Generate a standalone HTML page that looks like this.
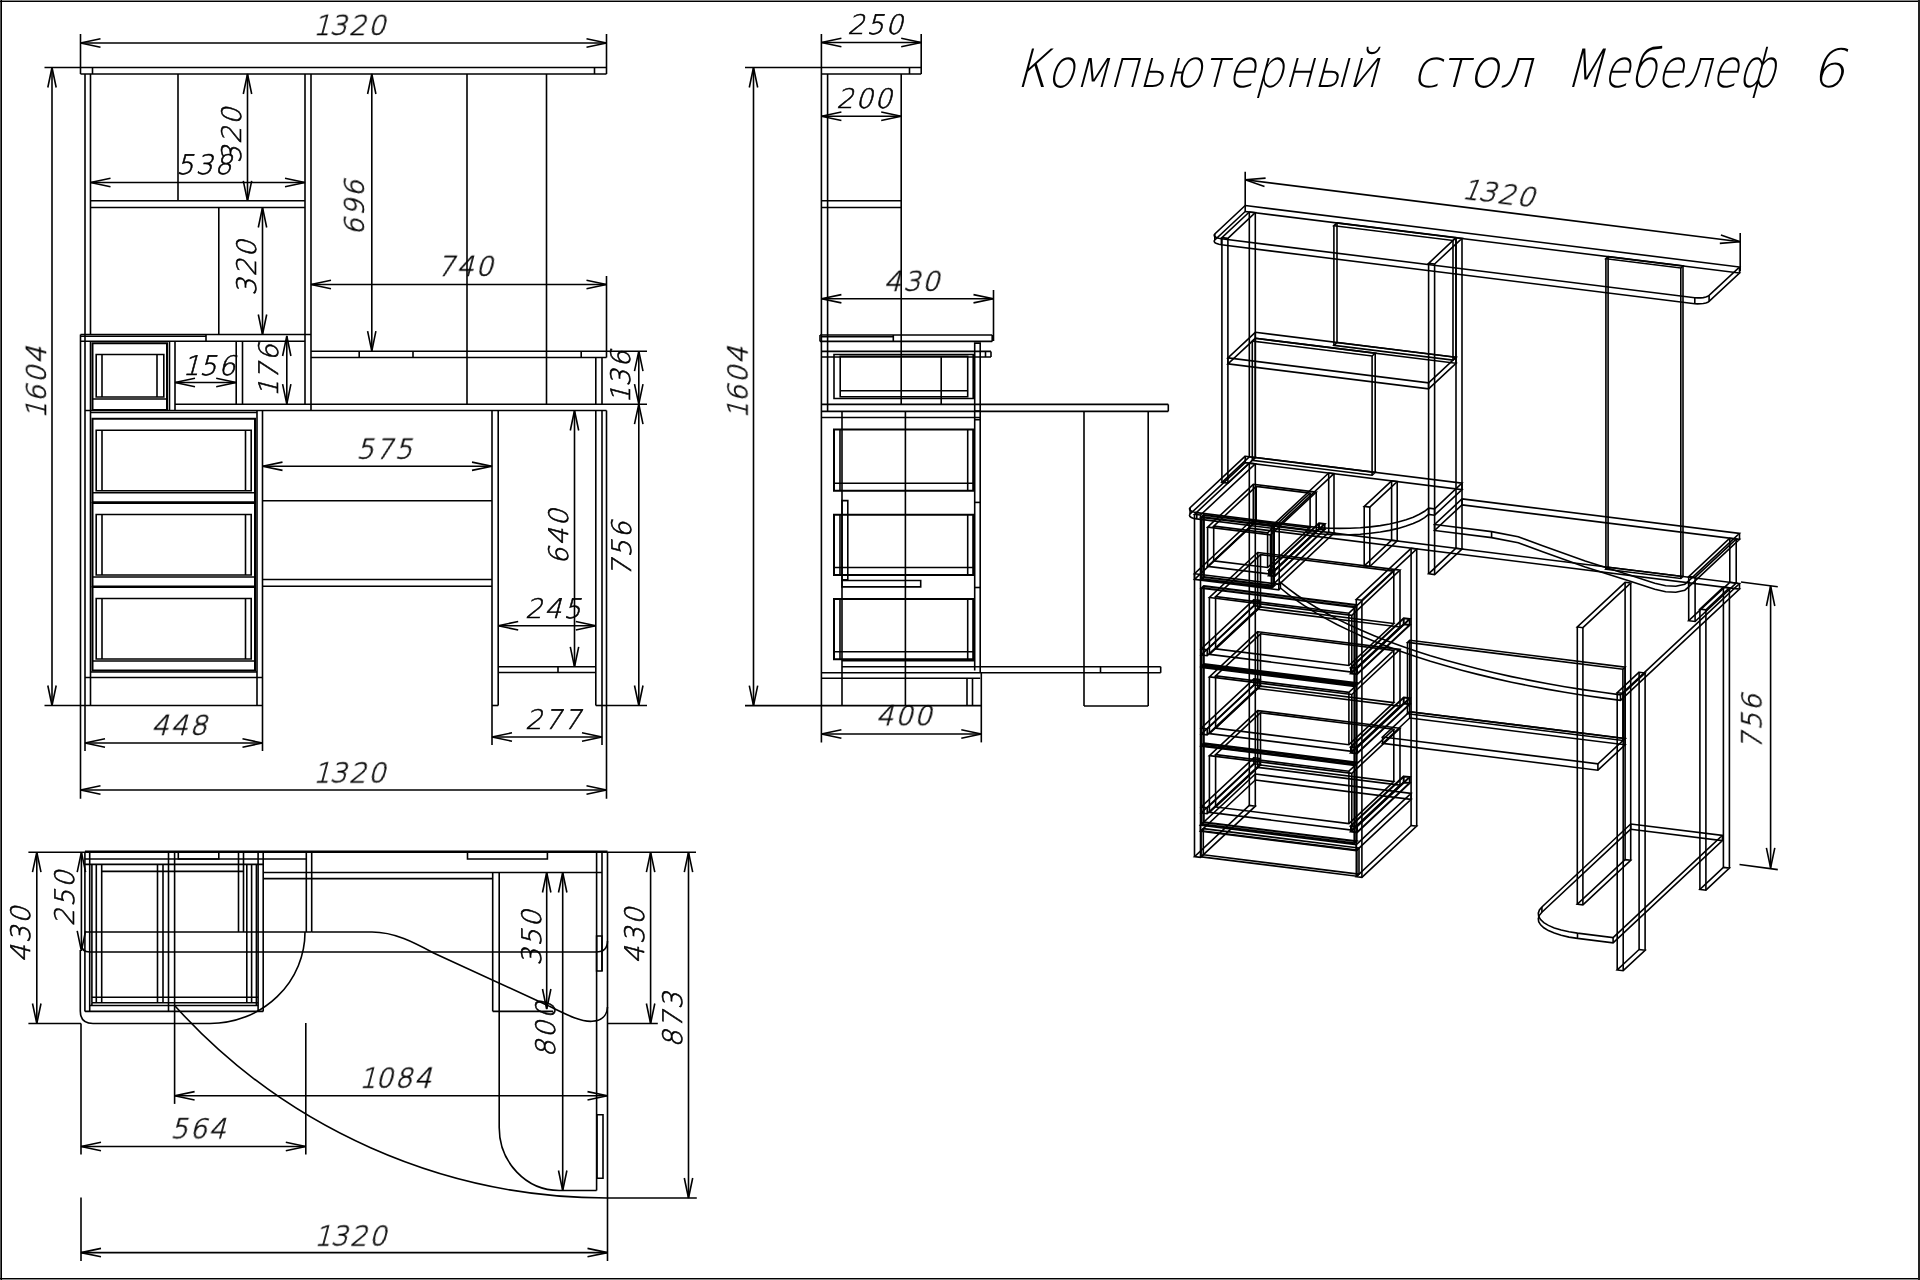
<!DOCTYPE html>
<html lang="ru"><head><meta charset="utf-8"><title>Компьютерный стол Мебелеф 6</title>
<style>
html,body{margin:0;padding:0;background:#fff}
body{width:1920px;height:1280px;overflow:hidden}
svg{display:block}
svg path{fill:none;stroke:#000;stroke-width:1.6;stroke-linecap:butt;stroke-linejoin:miter}
svg text{font-family:"DejaVu Sans Light","DejaVu Sans","Liberation Sans",sans-serif;font-weight:200;fill:#000;stroke:#000;stroke-width:0.6;letter-spacing:2px}
</style></head><body>
<svg width="1920" height="1280" viewBox="0 0 1920 1280">
<rect x="0" y="0" width="1920" height="1280" fill="#fff"/>
<g id="lines">
<rect x="0" y="0" width="1920" height="1" fill="#888"/><rect x="0" y="1279" width="1920" height="1" fill="#888"/><rect x="0" y="0" width="1" height="1280" fill="#555"/><rect x="0" y="1" width="1920" height="1" fill="#000"/><rect x="0" y="1278" width="1920" height="1" fill="#000"/><rect x="1" y="0" width="1" height="1280" fill="#000"/><rect x="1918" y="0" width="2" height="1280" fill="#222"/>
<path d="M80.5 34.0L80.5 74.0"/>
<path d="M606.5 34.0L606.5 74.0"/>
<path d="M80.5 43.0L606.5 43.0"/>
<path d="M100.5 38.8L80.5 43.0L100.5 47.2"/>
<path d="M586.5 47.2L606.5 43.0L586.5 38.8"/>
<path d="M44.5 67.5L606.5 67.5"/>
<path d="M80.5 74.0L606.5 74.0"/>
<path d="M92.5 67.5L92.5 74.0"/>
<path d="M594.5 67.5L594.5 74.0"/>
<path d="M85.0 74.0L85.0 334.5"/>
<path d="M90.5 74.0L90.5 334.5"/>
<path d="M305.0 74.0L305.0 404.2"/>
<path d="M311.0 74.0L311.0 410.5"/>
<path d="M178.0 74.0L178.0 200.8"/>
<path d="M90.5 200.8L305.0 200.8"/>
<path d="M90.5 207.5L305.0 207.5"/>
<path d="M218.8 207.5L218.8 334.5"/>
<path d="M90.5 182.5L305.0 182.5"/>
<path d="M110.5 178.3L90.5 182.5L110.5 186.7"/>
<path d="M285.0 186.7L305.0 182.5L285.0 178.3"/>
<path d="M247.5 74.0L247.5 200.8"/>
<path d="M251.7 94.0L247.5 74.0L243.3 94.0"/>
<path d="M243.3 180.8L247.5 200.8L251.7 180.8"/>
<path d="M262.5 207.5L262.5 334.5"/>
<path d="M266.7 227.5L262.5 207.5L258.3 227.5"/>
<path d="M258.3 314.5L262.5 334.5L266.7 314.5"/>
<path d="M80.5 334.5L311.0 334.5"/>
<path d="M80.5 336.3L206.0 336.3"/>
<path d="M80.5 341.2L305.0 341.2"/>
<path d="M206.0 334.5L206.0 341.2"/>
<path d="M80.5 334.5L80.5 798.8"/>
<path d="M85.0 334.5L85.0 751.0"/>
<path d="M90.5 341.2L90.5 705.5"/>
<path d="M92.5 343.2H167.0V410.0H92.5Z" style="stroke-width:2"/>
<path d="M96.2 354.5H163.8V397.0H96.2Z"/>
<path d="M102.0 354.5L102.0 397.0"/>
<path d="M157.0 354.5L157.0 397.0"/>
<path d="M92.5 399.0L167.0 399.0"/>
<path d="M169.5 341.2L169.5 410.5"/>
<path d="M175.0 341.2L175.0 410.5"/>
<path d="M175.0 382.5L236.2 382.5"/>
<path d="M195.0 378.3L175.0 382.5L195.0 386.7"/>
<path d="M216.2 386.7L236.2 382.5L216.2 378.3"/>
<path d="M236.2 341.2L236.2 404.2"/>
<path d="M242.5 341.2L242.5 404.2"/>
<path d="M286.8 336.0L286.8 404.2"/>
<path d="M290.9 356.0L286.8 336.0L282.6 356.0"/>
<path d="M282.6 384.2L286.8 404.2L290.9 384.2"/>
<path d="M175.0 404.2L647.0 404.2"/>
<path d="M85.0 410.5L606.5 410.5"/>
<path d="M467.0 74.0L467.0 404.2"/>
<path d="M546.5 74.0L546.5 404.2"/>
<path d="M371.8 74.0L371.8 351.2"/>
<path d="M375.9 94.0L371.8 74.0L367.6 94.0"/>
<path d="M367.6 331.2L371.8 351.2L375.9 331.2"/>
<path d="M311.0 284.5L606.5 284.5"/>
<path d="M331.0 280.3L311.0 284.5L331.0 288.7"/>
<path d="M586.5 288.7L606.5 284.5L586.5 280.3"/>
<path d="M606.5 276.0L606.5 357.5"/>
<path d="M311.0 351.2L647.0 351.2"/>
<path d="M311.0 357.5L606.5 357.5"/>
<path d="M359.2 351.2L359.2 357.5"/>
<path d="M413.0 351.2L413.0 357.5"/>
<path d="M581.2 351.2L581.2 357.5"/>
<path d="M595.8 357.5L595.8 404.2"/>
<path d="M602.0 357.5L602.0 404.2"/>
<path d="M638.8 351.2L638.8 705.5"/>
<path d="M643.0 371.2L638.8 351.2L634.5 371.2"/>
<path d="M634.5 384.2L638.8 404.2L643.0 384.2"/>
<path d="M643.0 424.2L638.8 404.2L634.5 424.2"/>
<path d="M634.5 685.5L638.8 705.5L643.0 685.5"/>
<path d="M606.5 705.5L647.0 705.5"/>
<path d="M257.0 410.5L257.0 705.5"/>
<path d="M262.5 410.5L262.5 751.0"/>
<path d="M90.5 412.5L257.0 412.5"/>
<path d="M92.5 418.8H255.0V502.2H92.5Z" style="stroke-width:2"/>
<path d="M96.2 430.2H251.2V490.8H96.2Z"/>
<path d="M102.0 430.2L102.0 490.8"/>
<path d="M245.5 430.2L245.5 490.8"/>
<path d="M92.5 492.8L255.0 492.8"/>
<path d="M92.5 503.0H255.0V586.5H92.5Z" style="stroke-width:2"/>
<path d="M96.2 514.5H251.2V575.0H96.2Z"/>
<path d="M102.0 514.5L102.0 575.0"/>
<path d="M245.5 514.5L245.5 575.0"/>
<path d="M92.5 577.0L255.0 577.0"/>
<path d="M92.5 587.0H255.0V670.5H92.5Z" style="stroke-width:2"/>
<path d="M96.2 598.5H251.2V659.0H96.2Z"/>
<path d="M102.0 598.5L102.0 659.0"/>
<path d="M245.5 598.5L245.5 659.0"/>
<path d="M92.5 661.0L255.0 661.0"/>
<path d="M85.0 677.5L262.5 677.5"/>
<path d="M90.5 672.0L257.0 672.0"/>
<path d="M44.5 705.5L262.5 705.5"/>
<path d="M85.0 743.0L262.5 743.0"/>
<path d="M105.0 738.8L85.0 743.0L105.0 747.2"/>
<path d="M242.5 747.2L262.5 743.0L242.5 738.8"/>
<path d="M80.5 790.0L606.5 790.0"/>
<path d="M100.5 785.8L80.5 790.0L100.5 794.2"/>
<path d="M586.5 794.2L606.5 790.0L586.5 785.8"/>
<path d="M52.0 67.5L52.0 705.5"/>
<path d="M56.2 87.5L52.0 67.5L47.8 87.5"/>
<path d="M47.8 685.5L52.0 705.5L56.2 685.5"/>
<path d="M262.5 466.2L492.0 466.2"/>
<path d="M282.5 462.1L262.5 466.2L282.5 470.4"/>
<path d="M472.0 470.4L492.0 466.2L472.0 462.1"/>
<path d="M262.5 500.8L492.0 500.8"/>
<path d="M262.5 579.5L492.0 579.5"/>
<path d="M262.5 586.2L492.0 586.2"/>
<path d="M492.0 410.5L492.0 745.0"/>
<path d="M498.2 410.5L498.2 705.5"/>
<path d="M492.0 705.5L498.2 705.5"/>
<path d="M595.8 410.5L595.8 705.5"/>
<path d="M602.0 410.5L602.0 745.0"/>
<path d="M606.5 410.5L606.5 798.8"/>
<path d="M595.8 705.5L606.5 705.5"/>
<path d="M498.2 666.8L595.8 666.8"/>
<path d="M498.2 672.5L595.8 672.5"/>
<path d="M558.0 666.8L558.0 672.5"/>
<path d="M498.2 625.8L595.8 625.8"/>
<path d="M518.2 621.5L498.2 625.8L518.2 630.0"/>
<path d="M575.8 630.0L595.8 625.8L575.8 621.5"/>
<path d="M574.5 410.5L574.5 666.8"/>
<path d="M578.7 430.5L574.5 410.5L570.3 430.5"/>
<path d="M570.3 646.8L574.5 666.8L578.7 646.8"/>
<path d="M492.0 737.0L602.0 737.0"/>
<path d="M512.0 732.8L492.0 737.0L512.0 741.2"/>
<path d="M582.0 741.2L602.0 737.0L582.0 732.8"/>
<path d="M745.0 67.5L921.2 67.5"/>
<path d="M821.4 74.0L921.2 74.0"/>
<path d="M909.5 67.5L909.5 74.0"/>
<path d="M921.2 34.0L921.2 74.0"/>
<path d="M821.4 34.0L821.4 742.4"/>
<path d="M821.4 42.5L921.2 42.5"/>
<path d="M841.4 38.3L821.4 42.5L841.4 46.7"/>
<path d="M901.2 46.7L921.2 42.5L901.2 38.3"/>
<path d="M821.4 116.2L901.2 116.2"/>
<path d="M841.4 112.0L821.4 116.2L841.4 120.5"/>
<path d="M881.2 120.5L901.2 116.2L881.2 112.0"/>
<path d="M827.6 74.0L827.6 411.4"/>
<path d="M901.2 74.0L901.2 404.4"/>
<path d="M821.4 200.8L901.2 200.8"/>
<path d="M821.4 207.5L901.2 207.5"/>
<path d="M821.4 298.8L993.5 298.8"/>
<path d="M841.4 294.6L821.4 298.8L841.4 302.9"/>
<path d="M973.5 302.9L993.5 298.8L973.5 294.6"/>
<path d="M993.5 290.0L993.5 341.0"/>
<path d="M753.5 67.5L753.5 705.6"/>
<path d="M757.7 87.5L753.5 67.5L749.3 87.5"/>
<path d="M749.3 685.6L753.5 705.6L757.7 685.6"/>
<path d="M820.0 335.0L992.2 335.0"/>
<path d="M820.0 341.4L992.2 341.4"/>
<path d="M992.2 335.0L992.2 341.4"/>
<path d="M820.0 335.0L820.0 341.4"/>
<path d="M893.3 335.0L893.3 341.4"/>
<path d="M821.4 336.8L893.3 336.8"/>
<path d="M974.7 343.1H980.2V411.0H974.7Z"/>
<path d="M821.4 351.4L991.0 351.4"/>
<path d="M821.4 357.0L991.0 357.0"/>
<path d="M991.0 351.4L991.0 357.0"/>
<path d="M985.5 351.4L985.5 357.0"/>
<path d="M834.0 354.5H973.2V398.5H834.0Z"/>
<path d="M840.2 356.3H967.7V396.7H840.2Z"/>
<path d="M840.2 390.8L967.7 390.8"/>
<path d="M941.2 357.0L941.2 404.4"/>
<path d="M821.4 404.4L1168.3 404.4"/>
<path d="M821.4 411.4L1168.3 411.4"/>
<path d="M1168.3 404.4L1168.3 411.4"/>
<path d="M821.4 417.5L980.2 417.5"/>
<path d="M842.0 411.4L842.0 705.6"/>
<path d="M905.4 411.4L905.4 705.6"/>
<path d="M834.0 429.5H973.2V490.8H834.0Z" style="stroke-width:2"/>
<path d="M840.0 429.5L840.0 490.8"/>
<path d="M967.7 429.5L967.7 490.8"/>
<path d="M834.0 483.3L973.2 483.3"/>
<path d="M834.0 514.7H973.2V575.0H834.0Z" style="stroke-width:2"/>
<path d="M840.0 514.7L840.0 575.0"/>
<path d="M967.7 514.7L967.7 575.0"/>
<path d="M834.0 567.5L973.2 567.5"/>
<path d="M834.0 598.9H973.2V659.3H834.0Z" style="stroke-width:2"/>
<path d="M840.0 598.9L840.0 659.3"/>
<path d="M967.7 598.9L967.7 659.3"/>
<path d="M834.0 651.8L973.2 651.8"/>
<path d="M842.0 500.6H847.8V579.9H842.0Z"/>
<path d="M842.0 580.5H920.7V586.9H842.0Z"/>
<path d="M974.7 411.4L974.7 670.6"/>
<path d="M980.2 411.4L980.2 672.8"/>
<path d="M974.7 419.7L980.2 419.7"/>
<path d="M974.7 502.4L980.2 502.4"/>
<path d="M974.7 587.5L980.2 587.5"/>
<path d="M842.0 660.8L974.7 660.8"/>
<path d="M842.0 666.7L1160.7 666.7"/>
<path d="M821.4 672.8L1160.7 672.8"/>
<path d="M1160.7 666.7L1160.7 672.8"/>
<path d="M821.4 678.3L980.2 678.3"/>
<path d="M1100.5 666.7L1100.5 672.8"/>
<path d="M967.0 678.3L967.0 705.6"/>
<path d="M972.5 678.3L972.5 705.6"/>
<path d="M745.0 705.6L981.3 705.6"/>
<path d="M981.3 672.8L981.3 742.4"/>
<path d="M821.4 734.0L981.3 734.0"/>
<path d="M841.4 729.8L821.4 734.0L841.4 738.2"/>
<path d="M961.3 738.2L981.3 734.0L961.3 729.8"/>
<path d="M1084.0 411.4L1084.0 706.0"/>
<path d="M1148.2 411.4L1148.2 706.0"/>
<path d="M1084.0 706.0L1148.2 706.0"/>
<path d="M28.4 852.2L696.0 852.2"/>
<path d="M84.9 851.8L607.5 851.8" style="stroke-width:2.6"/>
<path d="M36.8 852.2L36.8 1023.5"/>
<path d="M41.0 872.2L36.8 852.2L32.5 872.2"/>
<path d="M32.5 1003.5L36.8 1023.5L41.0 1003.5"/>
<path d="M28.4 1023.5L81.0 1023.5"/>
<path d="M81.4 852.2L81.4 946.0"/>
<path d="M85.6 872.2L81.4 852.2L77.2 872.2"/>
<path d="M77.2 930.8L81.4 950.8L85.6 930.8"/>
<path d="M81.0 1023.5L81.0 1154.4"/>
<path d="M81.0 1197.5L81.0 1261.0"/>
<path d="M84.9 852.2L84.9 1011.4"/>
<path d="M89.7 852.2L89.7 1011.4"/>
<path d="M168.5 852.2L168.5 1011.4"/>
<path d="M174.6 852.2L174.6 1011.4"/>
<path d="M258.1 852.2L258.1 1011.4"/>
<path d="M263.2 852.2L263.2 1011.4"/>
<path d="M91.9 864.4L91.9 1002.7"/>
<path d="M96.3 864.4L96.3 1002.7"/>
<path d="M101.7 864.4L101.7 1002.7"/>
<path d="M157.5 864.4L157.5 1002.7"/>
<path d="M163.0 864.4L163.0 1002.7"/>
<path d="M246.8 864.4L246.8 1002.7"/>
<path d="M251.6 864.4L251.6 1002.7"/>
<path d="M256.4 864.4L256.4 1002.7"/>
<path d="M91.9 1002.7L91.9 1005.5"/>
<path d="M256.4 1002.7L256.4 1005.5"/>
<path d="M238.5 852.2L238.5 932.0"/>
<path d="M243.5 852.2L243.5 932.0"/>
<path d="M306.3 852.2L306.3 932.0"/>
<path d="M311.7 852.2L311.7 932.0"/>
<path d="M174.6 1011.4L174.6 1103.9"/>
<path d="M84.9 859.0L306.3 859.0"/>
<path d="M84.9 864.4L263.2 864.4"/>
<path d="M101.7 871.4L243.5 871.4"/>
<path d="M84.9 932.0L311.7 932.0"/>
<path d="M91.9 997.2L258.1 997.2"/>
<path d="M91.9 1002.7L258.1 1002.7"/>
<path d="M89.7 1005.5L258.1 1005.5"/>
<path d="M84.9 1011.4L263.2 1011.4"/>
<path d="M178.3 852.2H218.8V859.0H178.3Z"/>
<path d="M81.4 944Q81.4 952 89.7 952H596Q607.5 952 607.5 941"/>
<path d="M80.3 950V1011Q80.3 1023.5 93 1023.5H210A95 91.5 0 0 0 305 932"/>
<path d="M311.7 932H372C395 932 415 943 434.7 953.5L544 1003.8C560 1011 578 1022 592 1021.3C601 1021 607 1016 607.5 1007"/>
<path d="M174.6 1005.5A582 582 0 0 0 607.5 1198"/>
<path d="M305.8 1023.0L305.8 1154.4"/>
<path d="M174.6 1095.8L607.5 1095.8"/>
<path d="M194.6 1091.6L174.6 1095.8L194.6 1100.0"/>
<path d="M587.5 1100.0L607.5 1095.8L587.5 1091.6"/>
<path d="M81.0 1146.5L305.8 1146.5"/>
<path d="M101.0 1142.3L81.0 1146.5L101.0 1150.7"/>
<path d="M285.8 1150.7L305.8 1146.5L285.8 1142.3"/>
<path d="M81.0 1252.6L607.5 1252.6"/>
<path d="M101.0 1248.4L81.0 1252.6L101.0 1256.8"/>
<path d="M587.5 1256.8L607.5 1252.6L587.5 1248.4"/>
<path d="M263.2 872.5L602.0 872.5"/>
<path d="M263.2 878.6L492.7 878.6"/>
<path d="M467.5 852.2H547.4V859.0H467.5Z"/>
<path d="M492.7 872.5L492.7 1011.4"/>
<path d="M492.7 1011.4L553.0 1011.4"/>
<path d="M499.2 872.5V1127.5A60 63 0 0 0 559.4 1190.5H596.6"/>
<path d="M546.7 872.5L546.7 1009.0"/>
<path d="M550.9 892.5L546.7 872.5L542.5 892.5"/>
<path d="M542.5 989.0L546.7 1009.0L550.9 989.0"/>
<path d="M562.7 872.5L562.7 1190.5"/>
<path d="M566.9 892.5L562.7 872.5L558.5 892.5"/>
<path d="M558.5 1170.5L562.7 1190.5L566.9 1170.5"/>
<path d="M596.6 852.2L596.6 1190.5"/>
<path d="M602.0 852.2L602.0 971.0"/>
<path d="M607.5 852.2L607.5 1261.0"/>
<path d="M596.6 936.0H602.0V971.0H596.6Z"/>
<path d="M597.0 1114.8H603.0V1178.3H597.0Z"/>
<path d="M607.5 1023.5L657.8 1023.5"/>
<path d="M650.6 852.2L650.6 1023.5"/>
<path d="M654.8 872.2L650.6 852.2L646.4 872.2"/>
<path d="M646.4 1003.5L650.6 1023.5L654.8 1003.5"/>
<path d="M688.5 852.2L688.5 1198.0"/>
<path d="M692.7 872.2L688.5 852.2L684.3 872.2"/>
<path d="M684.3 1178.0L688.5 1198.0L692.7 1178.0"/>
<path d="M607.5 1198.0L696.8 1198.0"/>
<path d="M1245.2 211.5L1739.5 273.0L1709.1 301.4L1707.8 302.3L1705.8 303.0L1703.3 303.5L1700.6 303.8L1697.6 303.9L1694.8 303.7L1221.4 244.8L1218.9 244.3L1216.7 243.6L1215.1 242.8L1214.3 241.8L1214.2 240.9L1214.8 239.9Z"/>
<path d="M1245.2 205.5L1739.5 267.0L1709.1 295.4L1707.8 296.3L1705.8 297.0L1703.3 297.6L1700.6 297.9L1697.6 297.9L1694.8 297.7L1221.4 238.8L1218.9 238.3L1216.7 237.7L1215.1 236.8L1214.3 235.9L1214.2 234.9L1214.8 233.9Z"/>
<path d="M1245.2 211.5L1245.2 205.5"/>
<path d="M1739.5 273.0L1739.5 267.0"/>
<path d="M1709.1 301.4L1709.1 295.4"/>
<path d="M1694.8 303.7L1694.8 297.7"/>
<path d="M1221.4 244.8L1221.4 238.8"/>
<path d="M1214.8 239.9L1214.8 233.9"/>
<path d="M1249.3 456.8L1255.3 457.5L1227.9 483.1L1221.9 482.4Z"/>
<path d="M1249.3 212.0L1255.3 212.7L1227.9 238.3L1221.9 237.6Z"/>
<path d="M1249.3 456.8L1249.3 212.0"/>
<path d="M1255.3 457.5L1255.3 212.7"/>
<path d="M1227.9 483.1L1227.9 238.3"/>
<path d="M1221.9 482.4L1221.9 237.6"/>
<path d="M1456.0 548.2L1462.0 549.0L1434.6 574.6L1428.6 573.8Z"/>
<path d="M1456.0 237.7L1462.0 238.4L1434.6 264.0L1428.6 263.3Z"/>
<path d="M1456.0 548.2L1456.0 237.7"/>
<path d="M1462.0 549.0L1462.0 238.4"/>
<path d="M1434.6 574.6L1434.6 264.0"/>
<path d="M1428.6 573.8L1428.6 263.3"/>
<path d="M1255.3 338.3L1456.0 363.3L1428.6 388.9L1227.9 363.9Z"/>
<path d="M1255.3 332.3L1456.0 357.3L1428.6 382.9L1227.9 357.9Z"/>
<path d="M1255.3 338.3L1255.3 332.3"/>
<path d="M1456.0 363.3L1456.0 357.3"/>
<path d="M1428.6 388.9L1428.6 382.9"/>
<path d="M1227.9 363.9L1227.9 357.9"/>
<path d="M1337.0 342.5L1456.0 357.3L1453.0 360.1L1333.9 345.3Z"/>
<path d="M1337.0 222.9L1456.0 237.7L1453.0 240.5L1333.9 225.7Z"/>
<path d="M1337.0 342.5L1337.0 222.9"/>
<path d="M1456.0 357.3L1456.0 237.7"/>
<path d="M1453.0 360.1L1453.0 240.5"/>
<path d="M1333.9 345.3L1333.9 225.7"/>
<path d="M1255.3 457.5L1375.2 472.4L1372.1 475.2L1252.3 460.3Z"/>
<path d="M1255.3 338.3L1375.2 353.2L1372.1 356.0L1252.3 341.1Z"/>
<path d="M1255.3 457.5L1255.3 338.3"/>
<path d="M1375.2 472.4L1375.2 353.2"/>
<path d="M1372.1 475.2L1372.1 356.0"/>
<path d="M1252.3 460.3L1252.3 341.1"/>
<path d="M1608.1 567.2L1683.0 576.5L1680.8 578.5L1605.9 569.2Z"/>
<path d="M1608.1 256.6L1683.0 265.9L1680.8 268.0L1605.9 258.7Z"/>
<path d="M1608.1 567.2L1608.1 256.6"/>
<path d="M1683.0 576.5L1683.0 265.9"/>
<path d="M1680.8 578.5L1680.8 268.0"/>
<path d="M1605.9 569.2L1605.9 258.7"/>
<path d="M1245.2 462.6L1462.0 489.6L1434.6 515.2L1428.6 514.4L1428.6 514.4L1424.6 517.7L1419.4 520.7L1413.2 523.5L1406.1 526.1L1398.2 528.4L1389.6 530.4L1380.3 532.0L1370.4 533.3L1360.3 534.2L1349.8 534.7L1339.2 534.8L1328.6 534.5L1318.2 533.8L1308.0 532.8L1196.8 518.9L1193.7 518.4L1191.3 517.5L1189.9 516.4L1189.5 515.2L1190.1 514.0Z"/>
<path d="M1245.2 456.2L1462.0 483.2L1434.6 508.8L1428.6 508.1L1428.6 508.1L1424.6 511.3L1419.4 514.3L1413.2 517.2L1406.1 519.7L1398.2 522.0L1389.6 524.0L1380.3 525.6L1370.4 526.9L1360.3 527.8L1349.8 528.3L1339.2 528.4L1328.6 528.2L1318.2 527.5L1308.0 526.4L1196.8 512.6L1193.7 512.0L1191.3 511.1L1189.9 510.0L1189.5 508.9L1190.1 507.7Z"/>
<path d="M1245.2 462.6L1245.2 456.2"/>
<path d="M1462.0 489.6L1462.0 483.2"/>
<path d="M1434.6 515.2L1434.6 508.8"/>
<path d="M1428.6 514.4L1428.6 508.1"/>
<path d="M1308.0 532.8L1308.0 526.4"/>
<path d="M1196.8 518.9L1196.8 512.6"/>
<path d="M1190.1 514.0L1190.1 507.7"/>
<path d="M1249.3 805.4L1255.3 806.2L1200.5 857.4L1194.5 856.6Z"/>
<path d="M1249.3 463.1L1255.3 463.8L1200.5 515.0L1194.5 514.3Z"/>
<path d="M1249.3 805.4L1249.3 463.1"/>
<path d="M1255.3 806.2L1255.3 463.8"/>
<path d="M1200.5 857.4L1200.5 515.0"/>
<path d="M1194.5 856.6L1194.5 514.3"/>
<path d="M1328.7 532.4L1334.0 533.1L1279.2 584.3L1273.9 583.6Z"/>
<path d="M1328.7 473.0L1334.0 473.6L1279.2 524.8L1273.9 524.2Z"/>
<path d="M1328.7 532.4L1328.7 473.0"/>
<path d="M1334.0 533.1L1334.0 473.6"/>
<path d="M1279.2 584.3L1279.2 524.8"/>
<path d="M1273.9 583.6L1273.9 524.2"/>
<path d="M1391.6 540.2L1397.2 540.9L1369.8 566.5L1364.2 565.8Z"/>
<path d="M1391.6 480.8L1397.2 481.5L1369.8 507.1L1364.2 506.4Z"/>
<path d="M1391.6 540.2L1391.6 480.8"/>
<path d="M1397.2 540.9L1397.2 481.5"/>
<path d="M1369.8 566.5L1369.8 507.1"/>
<path d="M1364.2 565.8L1364.2 506.4"/>
<path d="M1203.8 577.0L1273.9 585.8L1271.7 587.8L1201.6 579.1Z" style="stroke-width:2.2"/>
<path d="M1203.8 515.0L1273.9 523.7L1271.7 525.8L1201.6 517.1Z" style="stroke-width:2.2"/>
<path d="M1203.8 577.0L1203.8 515.0" style="stroke-width:2.2"/>
<path d="M1273.9 585.8L1273.9 523.7" style="stroke-width:2.2"/>
<path d="M1271.7 587.8L1271.7 525.8" style="stroke-width:2.2"/>
<path d="M1201.6 579.1L1201.6 517.1" style="stroke-width:2.2"/>
<path d="M1319.0 528.8L1324.6 529.5L1274.6 576.2L1269.0 575.5Z" style="stroke-width:2"/>
<path d="M1319.0 523.2L1324.6 523.9L1274.6 570.6L1269.0 569.9Z" style="stroke-width:2"/>
<path d="M1319.0 528.8L1319.0 523.2" style="stroke-width:2"/>
<path d="M1324.6 529.5L1324.6 523.9" style="stroke-width:2"/>
<path d="M1274.6 576.2L1274.6 570.6" style="stroke-width:2"/>
<path d="M1269.0 575.5L1269.0 569.9" style="stroke-width:2"/>
<path d="M1253.3 523.5L1316.2 531.4L1270.5 574.1L1207.6 566.3Z"/>
<path d="M1253.3 484.3L1316.2 492.1L1270.5 534.9L1207.6 527.1Z"/>
<path d="M1253.3 523.5L1253.3 484.3"/>
<path d="M1316.2 531.4L1316.2 492.1"/>
<path d="M1270.5 574.1L1270.5 534.9"/>
<path d="M1207.6 566.3L1207.6 527.1"/>
<path d="M1256.2 521.2L1310.1 527.9L1267.6 567.5L1213.7 560.8Z"/>
<path d="M1256.2 486.4L1310.1 493.1L1267.6 532.8L1213.7 526.1Z"/>
<path d="M1256.2 521.2L1256.2 486.4"/>
<path d="M1310.1 527.9L1310.1 493.1"/>
<path d="M1267.6 567.5L1267.6 532.8"/>
<path d="M1213.7 560.8L1213.7 526.1"/>
<path d="M1249.3 528.1L1739.5 589.1L1620.5 700.4L1601.9 697.9L1583.2 695.2L1564.8 692.3L1546.7 689.1L1528.9 685.7L1511.5 682.2L1494.4 678.4L1477.8 674.4L1461.6 670.2L1445.8 665.8L1430.4 661.3L1415.6 656.6L1401.2 651.6L1387.4 646.6L1374.1 641.3L1361.3 635.9L1349.1 630.4L1337.4 624.7L1326.4 618.9L1315.9 612.9L1306.1 606.8L1296.9 600.6L1288.3 594.4L1280.4 588.0L1278.8 589.8L1194.5 579.3Z"/>
<path d="M1249.3 522.5L1739.5 583.5L1620.5 694.8L1601.9 692.3L1583.2 689.6L1564.8 686.7L1546.7 683.5L1528.9 680.1L1511.5 676.6L1494.4 672.8L1477.8 668.8L1461.6 664.6L1445.8 660.2L1430.4 655.7L1415.6 650.9L1401.2 646.0L1387.4 641.0L1374.1 635.7L1361.3 630.3L1349.1 624.8L1337.4 619.1L1326.4 613.3L1315.9 607.3L1306.1 601.2L1296.9 595.0L1288.3 588.7L1280.4 582.4L1278.8 584.2L1194.5 573.7Z"/>
<path d="M1249.3 528.1L1249.3 522.5"/>
<path d="M1739.5 589.1L1739.5 583.5"/>
<path d="M1620.5 700.4L1620.5 694.8"/>
<path d="M1280.4 588.0L1280.4 582.4"/>
<path d="M1278.8 589.8L1278.8 584.2"/>
<path d="M1194.5 579.3L1194.5 573.7"/>
<path d="M1462.0 504.9L1739.5 539.4L1688.7 586.9L1684.8 590.2L1675.8 592.3L1665.7 591.7L1654.8 589.2L1628.7 580.7L1585.2 567.1L1543.3 551.9L1518.2 542.8L1491.6 537.6L1434.6 530.5Z"/>
<path d="M1462.0 498.9L1739.5 533.4L1688.7 580.9L1684.8 584.2L1675.8 586.3L1665.7 585.8L1654.8 583.2L1628.7 574.8L1585.2 561.1L1543.3 545.9L1518.2 536.8L1491.6 531.6L1434.6 524.5Z"/>
<path d="M1462.0 504.9L1462.0 498.9"/>
<path d="M1739.5 539.4L1739.5 533.4"/>
<path d="M1688.7 586.9L1688.7 580.9"/>
<path d="M1491.6 537.6L1491.6 531.6"/>
<path d="M1434.6 530.5L1434.6 524.5"/>
<path d="M1729.8 582.3L1736.2 583.1L1695.1 621.5L1688.7 620.7Z"/>
<path d="M1729.8 538.2L1736.2 539.0L1695.1 577.4L1688.7 576.6Z"/>
<path d="M1729.8 582.3L1729.8 538.2"/>
<path d="M1736.2 583.1L1736.2 539.0"/>
<path d="M1695.1 621.5L1695.1 577.4"/>
<path d="M1688.7 620.7L1688.7 576.6"/>
<path d="M1625.1 859.6L1630.7 860.3L1582.9 904.9L1577.3 904.2Z"/>
<path d="M1625.1 582.3L1630.7 583.0L1582.9 627.7L1577.3 627.0Z"/>
<path d="M1625.1 859.6L1625.1 582.3"/>
<path d="M1630.7 860.3L1630.7 583.0"/>
<path d="M1582.9 904.9L1582.9 627.7"/>
<path d="M1577.3 904.2L1577.3 627.0"/>
<path d="M1723.4 867.4L1729.4 868.1L1705.9 890.2L1699.9 889.4Z"/>
<path d="M1723.4 587.1L1729.4 587.9L1705.9 609.9L1699.9 609.1Z"/>
<path d="M1723.4 867.4L1723.4 587.1"/>
<path d="M1729.4 868.1L1729.4 587.9"/>
<path d="M1705.9 890.2L1705.9 609.9"/>
<path d="M1699.9 889.4L1699.9 609.1"/>
<path d="M1639.1 949.5L1645.1 950.3L1623.2 970.7L1617.2 970.0Z"/>
<path d="M1639.1 672.2L1645.1 673.0L1623.2 693.4L1617.2 692.7Z"/>
<path d="M1639.1 949.5L1639.1 672.2"/>
<path d="M1645.1 950.3L1645.1 673.0"/>
<path d="M1623.2 970.7L1623.2 693.4"/>
<path d="M1617.2 970.0L1617.2 692.7"/>
<path d="M1630.7 829.2L1722.4 840.7L1613.1 942.8L1577.5 938.4L1569.0 937.1L1561.2 935.3L1554.3 933.1L1548.4 930.6L1543.8 927.8L1540.6 924.8L1538.7 921.7L1538.3 918.5L1539.4 915.3L1541.9 912.2Z"/>
<path d="M1630.7 824.0L1722.4 835.4L1613.1 937.6L1577.5 933.1L1569.0 931.8L1561.2 930.1L1554.3 927.9L1548.4 925.4L1543.8 922.6L1540.6 919.6L1538.7 916.4L1538.3 913.2L1539.4 910.0L1541.9 907.0Z"/>
<path d="M1630.7 829.2L1630.7 824.0"/>
<path d="M1722.4 840.7L1722.4 835.4"/>
<path d="M1613.1 942.8L1613.1 937.6"/>
<path d="M1577.5 938.4L1577.5 933.1"/>
<path d="M1541.9 912.2L1541.9 907.0"/>
<path d="M1409.7 711.7L1625.1 738.5L1622.9 740.5L1407.5 713.7Z"/>
<path d="M1409.7 640.3L1625.1 667.1L1622.9 669.2L1407.5 642.4Z"/>
<path d="M1409.7 711.7L1409.7 640.3"/>
<path d="M1625.1 738.5L1625.1 667.1"/>
<path d="M1622.9 740.5L1622.9 669.2"/>
<path d="M1407.5 713.7L1407.5 642.4"/>
<path d="M1409.7 718.0L1625.1 744.8L1597.9 770.2L1382.6 743.4Z"/>
<path d="M1409.7 711.7L1625.1 738.5L1597.9 763.8L1382.6 737.0Z"/>
<path d="M1409.7 718.0L1409.7 711.7"/>
<path d="M1625.1 744.8L1625.1 738.5"/>
<path d="M1597.9 770.2L1597.9 763.8"/>
<path d="M1382.6 743.4L1382.6 737.0"/>
<path d="M1411.1 825.5L1416.7 826.2L1361.9 877.4L1356.3 876.7Z"/>
<path d="M1411.1 548.3L1416.7 549.0L1361.9 600.2L1356.3 599.5Z"/>
<path d="M1411.1 825.5L1411.1 548.3"/>
<path d="M1416.7 826.2L1416.7 549.0"/>
<path d="M1361.9 877.4L1361.9 600.2"/>
<path d="M1356.3 876.7L1356.3 599.5"/>
<path d="M1255.3 780.0L1411.1 799.4L1356.3 850.6L1200.5 831.2Z"/>
<path d="M1255.3 774.0L1411.1 793.4L1356.3 844.6L1200.5 825.2Z"/>
<path d="M1255.3 780.0L1255.3 774.0"/>
<path d="M1411.1 799.4L1411.1 793.4"/>
<path d="M1356.3 850.6L1356.3 844.6"/>
<path d="M1200.5 831.2L1200.5 825.2"/>
<path d="M1203.3 854.8L1359.0 874.2L1356.9 876.2L1201.1 856.8Z"/>
<path d="M1203.3 828.6L1359.0 848.0L1356.9 850.1L1201.1 830.7Z"/>
<path d="M1203.3 854.8L1203.3 828.6"/>
<path d="M1359.0 874.2L1359.0 848.0"/>
<path d="M1356.9 876.2L1356.9 850.1"/>
<path d="M1201.1 856.8L1201.1 830.7"/>
<path d="M1203.8 664.1L1356.6 683.1L1354.4 685.2L1201.6 666.2Z" style="stroke-width:2"/>
<path d="M1203.8 586.0L1356.6 605.0L1354.4 607.1L1201.6 588.1Z" style="stroke-width:2"/>
<path d="M1203.8 664.1L1203.8 586.0" style="stroke-width:2"/>
<path d="M1356.6 683.1L1356.6 605.0" style="stroke-width:2"/>
<path d="M1354.4 685.2L1354.4 607.1" style="stroke-width:2"/>
<path d="M1201.6 666.2L1201.6 588.1" style="stroke-width:2"/>
<path d="M1257.7 609.3L1400.0 627.0L1351.8 672.1L1209.4 654.4Z"/>
<path d="M1257.7 552.5L1400.0 570.2L1351.8 615.3L1209.4 597.5Z"/>
<path d="M1257.7 609.3L1257.7 552.5"/>
<path d="M1400.0 627.0L1400.0 570.2"/>
<path d="M1351.8 672.1L1351.8 615.3"/>
<path d="M1209.4 654.4L1209.4 597.5"/>
<path d="M1260.5 606.9L1393.8 623.5L1348.9 665.5L1215.6 648.9Z"/>
<path d="M1260.5 554.6L1393.8 571.2L1348.9 613.2L1215.6 596.6Z"/>
<path d="M1260.5 606.9L1260.5 554.6"/>
<path d="M1393.8 623.5L1393.8 571.2"/>
<path d="M1348.9 665.5L1348.9 613.2"/>
<path d="M1215.6 648.9L1215.6 596.6"/>
<path d="M1403.7 624.3L1409.7 625.0L1357.0 674.3L1351.0 673.6Z" style="stroke-width:2"/>
<path d="M1403.7 618.3L1409.7 619.0L1357.0 668.3L1351.0 667.6Z" style="stroke-width:2"/>
<path d="M1403.7 624.3L1403.7 618.3" style="stroke-width:2"/>
<path d="M1409.7 625.0L1409.7 619.0" style="stroke-width:2"/>
<path d="M1357.0 674.3L1357.0 668.3" style="stroke-width:2"/>
<path d="M1351.0 673.6L1351.0 667.6" style="stroke-width:2"/>
<path d="M1253.9 605.6L1259.9 606.4L1207.2 655.7L1201.2 654.9Z"/>
<path d="M1253.9 599.7L1259.9 600.4L1207.2 649.7L1201.2 648.9Z"/>
<path d="M1253.9 605.6L1253.9 599.7"/>
<path d="M1259.9 606.4L1259.9 600.4"/>
<path d="M1207.2 655.7L1207.2 649.7"/>
<path d="M1201.2 654.9L1201.2 648.9"/>
<path d="M1203.8 743.3L1356.6 762.4L1354.4 764.4L1201.6 745.4Z" style="stroke-width:2"/>
<path d="M1203.8 665.2L1356.6 684.2L1354.4 686.3L1201.6 667.3Z" style="stroke-width:2"/>
<path d="M1203.8 743.3L1203.8 665.2" style="stroke-width:2"/>
<path d="M1356.6 762.4L1356.6 684.2" style="stroke-width:2"/>
<path d="M1354.4 764.4L1354.4 686.3" style="stroke-width:2"/>
<path d="M1201.6 745.4L1201.6 667.3" style="stroke-width:2"/>
<path d="M1257.7 688.5L1400.0 706.2L1351.8 751.3L1209.4 733.6Z"/>
<path d="M1257.7 631.7L1400.0 649.4L1351.8 694.5L1209.4 676.8Z"/>
<path d="M1257.7 688.5L1257.7 631.7"/>
<path d="M1400.0 706.2L1400.0 649.4"/>
<path d="M1351.8 751.3L1351.8 694.5"/>
<path d="M1209.4 733.6L1209.4 676.8"/>
<path d="M1260.5 686.1L1393.8 702.7L1348.9 744.7L1215.6 728.1Z"/>
<path d="M1260.5 633.8L1393.8 650.4L1348.9 692.4L1215.6 675.8Z"/>
<path d="M1260.5 686.1L1260.5 633.8"/>
<path d="M1393.8 702.7L1393.8 650.4"/>
<path d="M1348.9 744.7L1348.9 692.4"/>
<path d="M1215.6 728.1L1215.6 675.8"/>
<path d="M1403.7 703.5L1409.7 704.3L1357.0 753.5L1351.0 752.8Z" style="stroke-width:2"/>
<path d="M1403.7 697.5L1409.7 698.3L1357.0 747.6L1351.0 746.8Z" style="stroke-width:2"/>
<path d="M1403.7 703.5L1403.7 697.5" style="stroke-width:2"/>
<path d="M1409.7 704.3L1409.7 698.3" style="stroke-width:2"/>
<path d="M1357.0 753.5L1357.0 747.6" style="stroke-width:2"/>
<path d="M1351.0 752.8L1351.0 746.8" style="stroke-width:2"/>
<path d="M1253.9 684.9L1259.9 685.6L1207.2 734.9L1201.2 734.1Z"/>
<path d="M1253.9 678.9L1259.9 679.6L1207.2 728.9L1201.2 728.2Z"/>
<path d="M1253.9 684.9L1253.9 678.9"/>
<path d="M1259.9 685.6L1259.9 679.6"/>
<path d="M1207.2 734.9L1207.2 728.9"/>
<path d="M1201.2 734.1L1201.2 728.2"/>
<path d="M1203.8 822.2L1356.6 841.2L1354.4 843.3L1201.6 824.2Z" style="stroke-width:2"/>
<path d="M1203.8 744.1L1356.6 763.1L1354.4 765.1L1201.6 746.1Z" style="stroke-width:2"/>
<path d="M1203.8 822.2L1203.8 744.1" style="stroke-width:2"/>
<path d="M1356.6 841.2L1356.6 763.1" style="stroke-width:2"/>
<path d="M1354.4 843.3L1354.4 765.1" style="stroke-width:2"/>
<path d="M1201.6 824.2L1201.6 746.1" style="stroke-width:2"/>
<path d="M1257.7 767.4L1400.0 785.1L1351.8 830.1L1209.4 812.4Z"/>
<path d="M1257.7 710.6L1400.0 728.3L1351.8 773.3L1209.4 755.6Z"/>
<path d="M1257.7 767.4L1257.7 710.6"/>
<path d="M1400.0 785.1L1400.0 728.3"/>
<path d="M1351.8 830.1L1351.8 773.3"/>
<path d="M1209.4 812.4L1209.4 755.6"/>
<path d="M1260.5 765.0L1393.8 781.6L1348.9 823.6L1215.6 807.0Z"/>
<path d="M1260.5 712.7L1393.8 729.3L1348.9 771.2L1215.6 754.6Z"/>
<path d="M1260.5 765.0L1260.5 712.7"/>
<path d="M1393.8 781.6L1393.8 729.3"/>
<path d="M1348.9 823.6L1348.9 771.2"/>
<path d="M1215.6 807.0L1215.6 754.6"/>
<path d="M1403.7 782.4L1409.7 783.1L1357.0 832.4L1351.0 831.6Z" style="stroke-width:2"/>
<path d="M1403.7 776.4L1409.7 777.1L1357.0 826.4L1351.0 825.7Z" style="stroke-width:2"/>
<path d="M1403.7 782.4L1403.7 776.4" style="stroke-width:2"/>
<path d="M1409.7 783.1L1409.7 777.1" style="stroke-width:2"/>
<path d="M1357.0 832.4L1357.0 826.4" style="stroke-width:2"/>
<path d="M1351.0 831.6L1351.0 825.7" style="stroke-width:2"/>
<path d="M1253.9 763.7L1259.9 764.5L1207.2 813.7L1201.2 813.0Z"/>
<path d="M1253.9 757.7L1259.9 758.5L1207.2 807.8L1201.2 807.0Z"/>
<path d="M1253.9 763.7L1253.9 757.7"/>
<path d="M1259.9 764.5L1259.9 758.5"/>
<path d="M1207.2 813.7L1207.2 807.8"/>
<path d="M1201.2 813.0L1201.2 807.0"/>
<path d="M1245.2 171.7L1245.2 205.5"/>
<path d="M1740.2 233.0L1740.2 271.3"/>
<path d="M1245.2 179.8L1740.2 241.7"/>
<path d="M1265.6 178.1L1245.2 179.8L1264.5 186.4"/>
<path d="M1719.8 243.4L1740.2 241.7L1720.9 235.1"/>
<path d="M1770.6 586.0L1770.6 867.8"/>
<path d="M1774.8 606.0L1770.6 586.0L1766.4 606.0"/>
<path d="M1766.4 847.8L1770.6 867.8L1774.8 847.8"/>
<path d="M1741.0 582.0L1777.8 586.8"/>
<path d="M1739.5 864.5L1777.8 869.6"/>
</g>
<g id="labels" opacity="0.999">
<text transform="translate(1016.0 86.5) skewX(-15)" font-size="53" textLength="362" lengthAdjust="spacingAndGlyphs" style="letter-spacing:0;stroke-width:0">Компьютерный</text>
<text transform="translate(1412.0 86.5) skewX(-15)" font-size="53" textLength="120" lengthAdjust="spacingAndGlyphs" style="letter-spacing:0;stroke-width:0">стол</text>
<text transform="translate(1565.0 86.5) skewX(-15)" font-size="53" textLength="210" lengthAdjust="spacingAndGlyphs" style="letter-spacing:0;stroke-width:0">Мебелеф</text>
<text transform="translate(1811 86.5) skewX(-15)" font-size="53" style="letter-spacing:0;stroke-width:0">6</text>
<text transform="translate(350.0 35.0) rotate(0) skewX(-15)" dx="0 -2.5 0 0" font-size="27" text-anchor="middle">1320</text>
<text transform="translate(205.0 173.8) rotate(0) skewX(-15)" font-size="27" text-anchor="middle">538</text>
<text transform="translate(241.0 134.5) rotate(-90) skewX(-15)" font-size="27" text-anchor="middle">320</text>
<text transform="translate(256.0 267.0) rotate(-90) skewX(-15)" font-size="27" text-anchor="middle">320</text>
<text transform="translate(210.0 375.0) rotate(0) skewX(-15)" dx="0 -2.5 0" font-size="27" text-anchor="middle">156</text>
<text transform="translate(277.5 369.5) rotate(-90) skewX(-15)" dx="0 -2.5 0" font-size="27" text-anchor="middle">176</text>
<text transform="translate(364.0 207.0) rotate(-90) skewX(-15)" font-size="27" text-anchor="middle">696</text>
<text transform="translate(466.0 276.0) rotate(0) skewX(-15)" font-size="27" text-anchor="middle">740</text>
<text transform="translate(630.0 376.0) rotate(-90) skewX(-15)" dx="0 -2.5 0" font-size="27" text-anchor="middle">136</text>
<text transform="translate(631.0 548.0) rotate(-90) skewX(-15)" font-size="27" text-anchor="middle">756</text>
<text transform="translate(180.0 735.0) rotate(0) skewX(-15)" font-size="27" text-anchor="middle">448</text>
<text transform="translate(350.0 782.5) rotate(0) skewX(-15)" dx="0 -2.5 0 0" font-size="27" text-anchor="middle">1320</text>
<text transform="translate(46.0 382.0) rotate(-90) skewX(-15)" dx="0 -2.5 0 0" font-size="27" text-anchor="middle">1604</text>
<text transform="translate(385.0 458.8) rotate(0) skewX(-15)" font-size="27" text-anchor="middle">575</text>
<text transform="translate(553.8 618.0) rotate(0) skewX(-15)" font-size="27" text-anchor="middle">245</text>
<text transform="translate(567.5 536.0) rotate(-90) skewX(-15)" font-size="27" text-anchor="middle">640</text>
<text transform="translate(553.8 728.8) rotate(0) skewX(-15)" font-size="27" text-anchor="middle">277</text>
<text transform="translate(876.0 33.8) rotate(0) skewX(-15)" font-size="27" text-anchor="middle">250</text>
<text transform="translate(865.0 107.5) rotate(0) skewX(-15)" font-size="27" text-anchor="middle">200</text>
<text transform="translate(912.5 291.0) rotate(0) skewX(-15)" font-size="27" text-anchor="middle">430</text>
<text transform="translate(747.5 382.0) rotate(-90) skewX(-15)" dx="0 -2.5 0 0" font-size="27" text-anchor="middle">1604</text>
<text transform="translate(904.7 725.3) rotate(0) skewX(-15)" font-size="27" text-anchor="middle">400</text>
<text transform="translate(29.5 933.6) rotate(-90) skewX(-15)" font-size="27" text-anchor="middle">430</text>
<text transform="translate(74.4 897.5) rotate(-90) skewX(-15)" font-size="27" text-anchor="middle">250</text>
<text transform="translate(396.0 1087.7) rotate(0) skewX(-15)" dx="0 -2.5 0 0" font-size="27" text-anchor="middle">1084</text>
<text transform="translate(199.0 1138.4) rotate(0) skewX(-15)" font-size="27" text-anchor="middle">564</text>
<text transform="translate(351.0 1245.6) rotate(0) skewX(-15)" dx="0 -2.5 0 0" font-size="27" text-anchor="middle">1320</text>
<text transform="translate(540.8 937.0) rotate(-90) skewX(-15)" font-size="27" text-anchor="middle">350</text>
<text transform="translate(555.0 1028.7) rotate(-90) skewX(-15)" font-size="27" text-anchor="middle">800</text>
<text transform="translate(643.6 934.7) rotate(-90) skewX(-15)" font-size="27" text-anchor="middle">430</text>
<text transform="translate(682.0 1019.0) rotate(-90) skewX(-15)" font-size="27" text-anchor="middle">873</text>
<text transform="translate(1498.0 203.0) rotate(7.1) skewX(-15)" dx="0 -2.5 0 0" font-size="27" text-anchor="middle">1320</text>
<text transform="translate(1761.5 721.0) rotate(-90) skewX(-15)" font-size="27" text-anchor="middle">756</text>
</g>
</svg>
</body></html>
